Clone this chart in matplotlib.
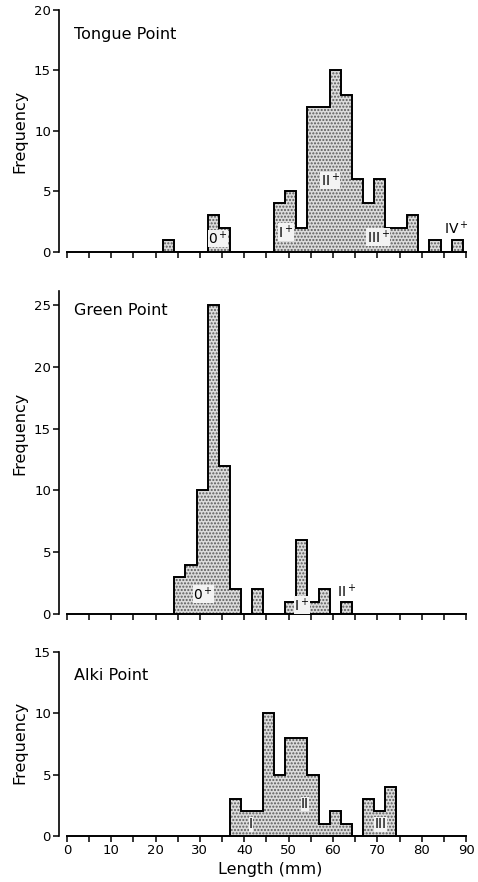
import matplotlib.pyplot as plt
import numpy as np
from matplotlib.ticker import MultipleLocator

plt.rcParams['font.family'] = ['DejaVu Sans']

# 2.5 mm length classes; first edge of each site's histogram
bin_width = 2.5

tongue_start = 21.75
tongue_counts = [1, 0, 0, 0, 3, 2, 0, 0, 0, 0, 4, 5, 2, 12, 12, 15, 13, 6, 4, 6, 2, 2, 3, 0, 1, 0, 1]

green_start = 24.25
green_counts = [3, 4, 10, 25, 12, 2, 0, 2, 0, 0, 1, 6, 1, 2, 0, 1]

alki_start = 36.75
alki_counts = [3, 2, 2, 10, 5, 8, 8, 5, 1, 2, 1, 0, 3, 2, 4]

# age class labels (text, length, frequency, inside bar?)
tongue_labels = [('0$^+$', 34.1, 1.1, True), ('I$^+$', 49.4, 1.6, True), ('II$^+$', 59.4, 5.9, True),
                 ('III$^+$', 70.2, 1.2, True), ('IV$^+$', 87.8, 1.9, False)]
green_labels = [('0$^+$', 30.8, 1.6, True), ('I$^+$', 53.0, 0.7, True), ('II$^+$', 63.0, 1.8, False)]
alki_labels = [('I', 41.5, 0.95, True), ('II', 53.7, 2.6, True), ('III', 70.7, 0.95, True)]

panels = [
    ('Tongue Point', tongue_start, tongue_counts, tongue_labels, 20, 20, 17.6, 0.5),
    ('Green Point', green_start, green_counts, green_labels, 26.15, 25, 24.2, 0.56),
    ('Alki Point', alki_start, alki_counts, alki_labels, 15, 15, 12.7, 0.505),
]

# axes boxes in figure fractions (left, bottom, width, height)
boxes = [
    [0.124, 0.7146, 0.851, 0.274],
    [0.124, 0.3039, 0.851, 0.3662],
    [0.124, 0.0522, 0.851, 0.209],
]

fig = plt.figure(figsize=(4.78, 8.82), dpi=100)

for i, (name, start, counts, labels, ytop, ymaxtick, title_y, ylab_y) in enumerate(panels):
    ax = fig.add_axes(boxes[i])
    edges = start + bin_width * np.arange(len(counts) + 1)

    # stippled fill, then black outline
    ax.stairs(counts, edges, baseline=0, fill=True, facecolor='#dcdcdc',
              edgecolor='#5a5a5a', hatch='.....', linewidth=0)
    ax.stairs(counts, edges, baseline=0, color='black', linewidth=1.4)

    for txt, x, y, inside in labels:
        box = dict(facecolor='#f3f3f3', edgecolor='none', pad=0.2) if inside else None
        ax.text(x, y, txt, fontsize=10, ha='center', va='center', bbox=box)

    ax.text(1.65, title_y, name, fontsize=11.5, ha='left', va='baseline')

    ax.set_xlim(-1.7, 90)
    ax.set_ylim(0, ytop)
    ax.set_yticks(np.arange(0, ymaxtick + 1, 5))
    ax.xaxis.set_major_locator(MultipleLocator(10))
    ax.xaxis.set_minor_locator(MultipleLocator(5))

    for s in ['top', 'right']:
        ax.spines[s].set_visible(False)
    ax.spines['bottom'].set_bounds(0, 90)
    ax.spines['left'].set_bounds(0, ytop)
    ax.spines['bottom'].set_linewidth(1.4)
    ax.spines['left'].set_linewidth(1.2)

    ax.tick_params(axis='both', which='both', direction='out', length=4, width=1.1,
                   labelsize=9.5, pad=2)
    ax.set_ylabel('Frequency', fontsize=11.5)
    ax.yaxis.set_label_coords(-0.079, ylab_y)

    if i < 2:
        ax.tick_params(axis='x', which='both', labelbottom=False)
    else:
        ax.set_xlabel('Length (mm)', fontsize=11.5)
        ax.xaxis.set_label_coords(0.518, -0.14)

fig.savefig('out.png', dpi=100)
